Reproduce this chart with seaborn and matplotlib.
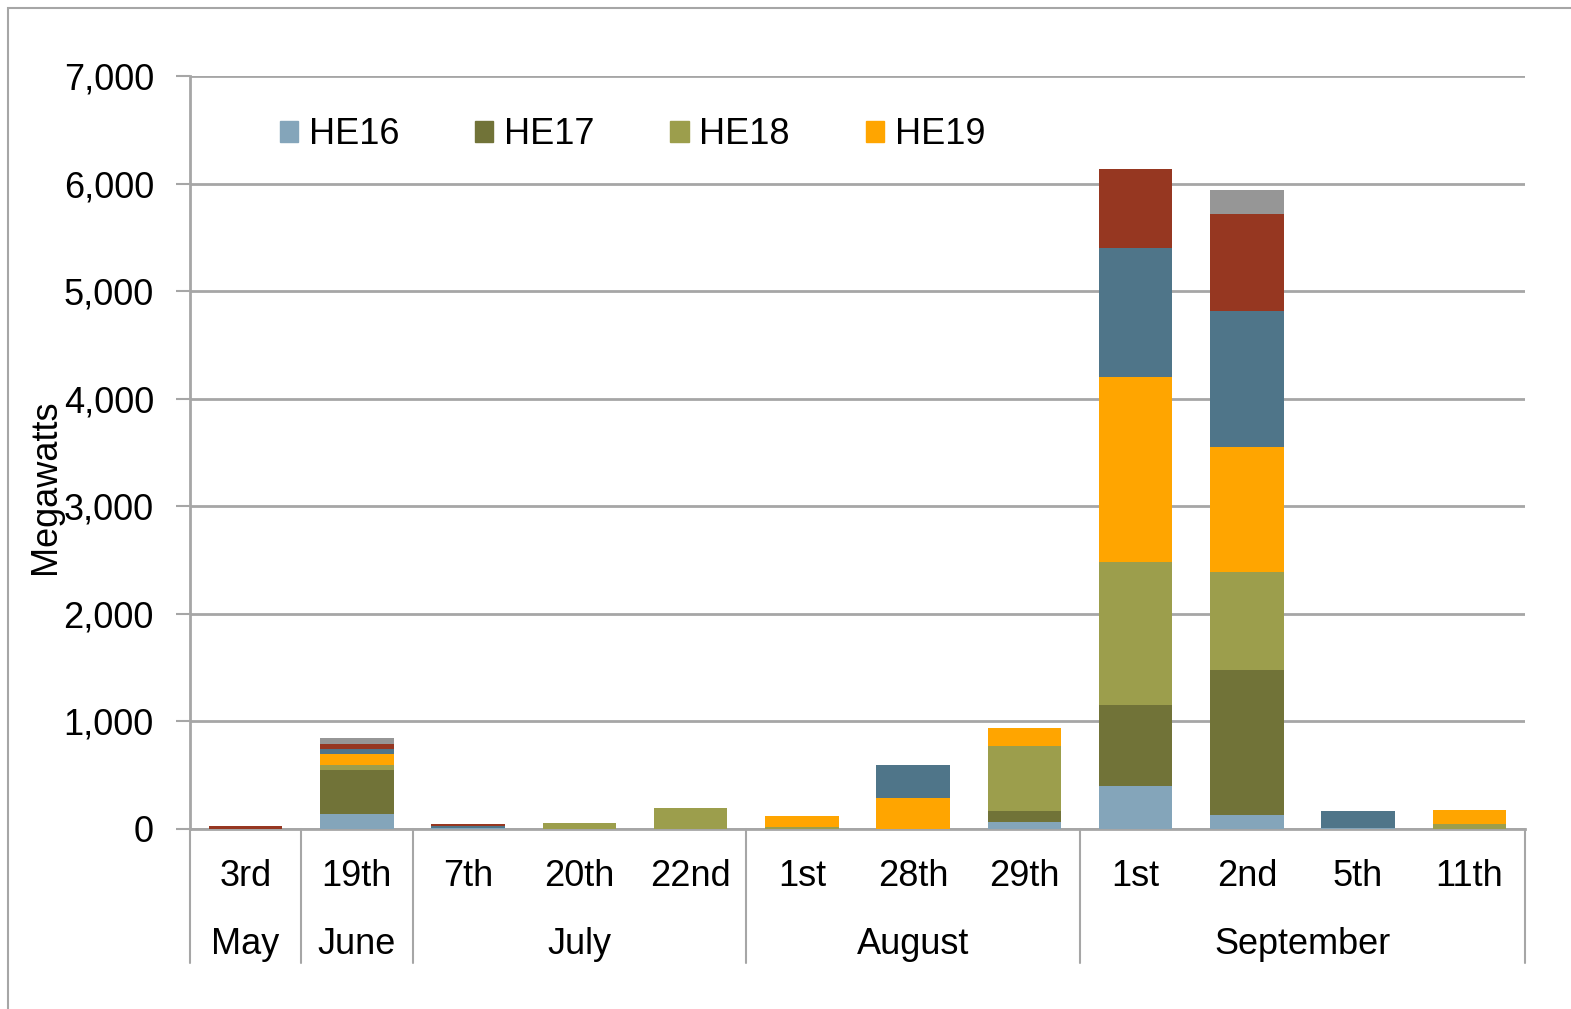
import numpy as np
import pandas as pd
import matplotlib
matplotlib.use("Agg")
import matplotlib.pyplot as plt
import matplotlib.patches as mpatches
import seaborn as sns

# chart data
days = ["3rd", "19th", "7th", "20th", "22nd", "1st", "28th", "29th", "1st", "2nd", "5th", "11th"]
months = ["May", "June", "July", "July", "July", "August", "August", "August",
          "September", "September", "September", "September"]
hours = ["HE16", "HE17", "HE18", "HE19", "HE20", "HE21", "HE22"]
he16 = [0, 140, 10, 0, 0, 0, 0, 65, 400, 130, 5, 0]
he17 = [0, 410, 0, 0, 0, 0, 0, 105, 750, 1350, 0, 0]
he18 = [0, 47, 0, 55, 195, 15, 0, 600, 1330, 910, 0, 45]
he19 = [0, 100, 0, 0, 0, 105, 290, 165, 1720, 1160, 0, 135]
he20 = [0, 47, 15, 0, 0, 0, 305, 0, 1200, 1265, 160, 0]
he21 = [30, 46, 25, 0, 0, 0, 0, 0, 735, 900, 0, 0]
he22 = [0, 53, 0, 0, 0, 0, 0, 0, 0, 225, 0, 0]
legend_hours = ["HE16", "HE17", "HE18", "HE19"]

colors = {"HE16": "#84A5BA", "HE17": "#717338", "HE18": "#9C9E4C", "HE19": "#FFA500",
          "HE20": "#4F7589", "HE21": "#963721", "HE22": "#969696"}

sns.set_style("white")
plt.rcParams["font.family"] = ["Liberation Sans", "DejaVu Sans"]
plt.rcParams["text.color"] = "black"
plt.rcParams["axes.labelcolor"] = "black"
plt.rcParams["ytick.labelcolor"] = "black"

W, H = 1571, 1009
fig = plt.figure(figsize=(W / 100, H / 100), dpi=100)
L, R, T, B = 190, 1525, 76, 829
ax = fig.add_axes([L / W, (H - B) / H, (R - L) / W, (B - T) / H])

# outer frame of the original chart
fig.add_artist(mpatches.Rectangle((8 / W, -0.05), 1.2, (H - 8) / H + 0.05, transform=fig.transFigure,
                                  fill=False, edgecolor="#A6A6A6", linewidth=1.5))

df = pd.DataFrame({"HE16": he16, "HE17": he17, "HE18": he18, "HE19": he19,
                   "HE20": he20, "HE21": he21, "HE22": he22})
df["pos"] = np.arange(len(days))
cum = df[hours].cumsum(axis=1)

# stacked bars: draw cumulative totals from the top layer down
for h in hours[::-1]:
    sns.barplot(x=df["pos"], y=cum[h], color=colors[h], width=0.66, linewidth=0,
                saturation=1, ax=ax, zorder=3)

ax.set_xlim(-0.5, len(days) - 0.5)
ax.set_ylim(0, 7000)
ax.set_yticks(range(0, 7001, 1000))
ax.set_yticklabels([f"{v:,}" for v in range(0, 7001, 1000)], fontsize=26)
ax.yaxis.grid(True, color="#A6A6A6", linewidth=2)
ax.set_axisbelow(True)
ax.tick_params(axis="y", direction="out", length=10, width=1.5, color="#A6A6A6", pad=16, left=True)
ax.tick_params(axis="x", length=0, labelbottom=False)
ax.set_xlabel("")
ax.set_ylabel("Megawatts", fontsize=26)
ax.yaxis.set_label_coords((63 - L) / (R - L), (B - 487) / (B - T))
for s in ["top", "right"]:
    ax.spines[s].set_visible(False)
for s in ["left", "bottom"]:
    ax.spines[s].set_color("#A6A6A6")
    ax.spines[s].set_linewidth(2)

# multi-level category axis
trans = matplotlib.transforms.blended_transform_factory(ax.transData, ax.transAxes)
day_y = (B - 877) / (B - T)
mon_y = (B - 944) / (B - T)
sep_y = (B - 963) / (B - T)
for i, d in enumerate(days):
    ax.text(i, day_y, d, transform=trans, ha="center", va="center", fontsize=26)
order = list(dict.fromkeys(months))
bounds = [-0.5]
for m in order:
    idx = [i for i, mm in enumerate(months) if mm == m]
    ax.text((idx[0] + idx[-1]) / 2, mon_y, m, transform=trans, ha="center", va="center", fontsize=26)
    bounds.append(idx[-1] + 0.5)
for bx in bounds:
    ax.plot([bx, bx], [0, sep_y], transform=trans, color="#A6A6A6", linewidth=1.5, clip_on=False)

handles = [mpatches.Patch(color=colors[h], label=h) for h in legend_hours]
ax.legend(handles=handles, loc="center left", bbox_to_anchor=((280 - L) / (R - L), (B - 135) / (B - T)),
          ncol=4, frameon=False, fontsize=26, handlelength=0.5, handleheight=0.5,
          handletextpad=0.3, columnspacing=2.1, borderaxespad=0, borderpad=0)

fig.savefig("out.png", dpi=100)
